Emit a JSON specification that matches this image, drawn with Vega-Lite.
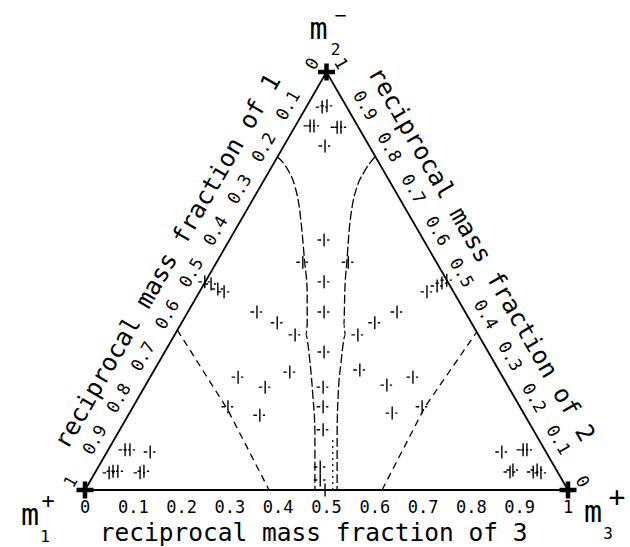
{
  "$schema": "https://vega.github.io/schema/vega-lite/v6.json",
  "width": 483,
  "height": 418,
  "autosize": {"type": "none"},
  "padding": {"left": 85, "top": 72, "right": 62, "bottom": 57},
  "background": "white",
  "config": {"view": {"stroke": null}},
  "datasets": {
    "tri": [
      {"id": "tri", "o": 0, "x": 0, "y": 0},
      {"id": "tri", "o": 1, "x": 1, "y": 0},
      {"id": "tri", "o": 2, "x": 0.5, "y": 1},
      {"id": "tri", "o": 3, "x": 0, "y": 0}
    ],
    "dash": [
      {"id": "L", "o": 0, "x": 0.191, "y": 0.383},
      {"id": "L", "o": 1, "x": 0.296, "y": 0.191},
      {"id": "L", "o": 2, "x": 0.381, "y": 0},
      {"id": "R", "o": 0, "x": 0.615, "y": 0},
      {"id": "R", "o": 1, "x": 0.704, "y": 0.199},
      {"id": "R", "o": 2, "x": 0.811, "y": 0.378}
    ],
    "curve": [
      {"id": "CL", "o": 0, "x": 0.398, "y": 0.797},
      {"id": "CL", "o": 1, "x": 0.420, "y": 0.766},
      {"id": "CL", "o": 2, "x": 0.435, "y": 0.725},
      {"id": "CL", "o": 3, "x": 0.443, "y": 0.682},
      {"id": "CL", "o": 4, "x": 0.449, "y": 0.622},
      {"id": "CL", "o": 5, "x": 0.455, "y": 0.543},
      {"id": "CL", "o": 6, "x": 0.460, "y": 0.478},
      {"id": "CL", "o": 7, "x": 0.460, "y": 0.395},
      {"id": "CL", "o": 8, "x": 0.457, "y": 0.371},
      {"id": "CL", "o": 9, "x": 0.466, "y": 0.304},
      {"id": "CL", "o": 10, "x": 0.472, "y": 0.222},
      {"id": "CL", "o": 11, "x": 0.476, "y": 0.144},
      {"id": "CL", "o": 12, "x": 0.476, "y": 0},
      {"id": "CR", "o": 0, "x": 0.600, "y": 0.797},
      {"id": "CR", "o": 1, "x": 0.578, "y": 0.761},
      {"id": "CR", "o": 2, "x": 0.563, "y": 0.725},
      {"id": "CR", "o": 3, "x": 0.553, "y": 0.677},
      {"id": "CR", "o": 4, "x": 0.547, "y": 0.622},
      {"id": "CR", "o": 5, "x": 0.542, "y": 0.543},
      {"id": "CR", "o": 6, "x": 0.538, "y": 0.478},
      {"id": "CR", "o": 7, "x": 0.536, "y": 0.395},
      {"id": "CR", "o": 8, "x": 0.539, "y": 0.371},
      {"id": "CR", "o": 9, "x": 0.530, "y": 0.304},
      {"id": "CR", "o": 10, "x": 0.524, "y": 0.222},
      {"id": "CR", "o": 11, "x": 0.522, "y": 0.144},
      {"id": "CR", "o": 12, "x": 0.522, "y": 0}
    ],
    "dot": [
      {"id": "D", "o": 0, "x": 0.513, "y": 0},
      {"id": "D", "o": 1, "x": 0.513, "y": 0.12}
    ],
    "pts": [
      {"x": 0.491, "y": 0.916}, {"x": 0.501, "y": 0.919}, {"x": 0.466, "y": 0.871}, {"x": 0.474, "y": 0.871},
      {"x": 0.522, "y": 0.868}, {"x": 0.530, "y": 0.868}, {"x": 0.497, "y": 0.823},
      {"x": 0.495, "y": 0.598}, {"x": 0.495, "y": 0.498}, {"x": 0.495, "y": 0.426}, {"x": 0.495, "y": 0.330},
      {"x": 0.493, "y": 0.246}, {"x": 0.493, "y": 0.199}, {"x": 0.493, "y": 0.144}, {"x": 0.487, "y": 0.055},
      {"x": 0.487, "y": 0.024}, {"x": 0.497, "y": 0.0},
      {"x": 0.451, "y": 0.545}, {"x": 0.545, "y": 0.545}, {"x": 0.435, "y": 0.371}, {"x": 0.565, "y": 0.371},
      {"x": 0.248, "y": 0.498}, {"x": 0.261, "y": 0.493}, {"x": 0.275, "y": 0.481}, {"x": 0.288, "y": 0.474},
      {"x": 0.749, "y": 0.502}, {"x": 0.739, "y": 0.495}, {"x": 0.729, "y": 0.488}, {"x": 0.708, "y": 0.474},
      {"x": 0.356, "y": 0.426}, {"x": 0.398, "y": 0.400}, {"x": 0.317, "y": 0.270}, {"x": 0.373, "y": 0.246},
      {"x": 0.424, "y": 0.282}, {"x": 0.296, "y": 0.199}, {"x": 0.362, "y": 0.179},
      {"x": 0.646, "y": 0.426}, {"x": 0.600, "y": 0.400}, {"x": 0.569, "y": 0.287}, {"x": 0.625, "y": 0.251},
      {"x": 0.679, "y": 0.270}, {"x": 0.636, "y": 0.184}, {"x": 0.698, "y": 0.199},
      {"x": 0.083, "y": 0.096}, {"x": 0.093, "y": 0.096}, {"x": 0.135, "y": 0.091}, {"x": 0.050, "y": 0.041},
      {"x": 0.058, "y": 0.045}, {"x": 0.068, "y": 0.045}, {"x": 0.114, "y": 0.041}, {"x": 0.122, "y": 0.045},
      {"x": 0.863, "y": 0.091}, {"x": 0.907, "y": 0.096}, {"x": 0.915, "y": 0.096}, {"x": 0.880, "y": 0.043},
      {"x": 0.886, "y": 0.048}, {"x": 0.928, "y": 0.043}, {"x": 0.936, "y": 0.048}, {"x": 0.944, "y": 0.041}
    ],
    "vert": [
      {"x": 0, "y": 0}, {"x": 1, "y": 0}, {"x": 0.5, "y": 1}
    ],
    "bottomLab": [
      {"x": 0, "y": 0, "label": "0"}, {"x": 0.1, "y": 0, "label": "0.1"}, {"x": 0.2, "y": 0, "label": "0.2"},
      {"x": 0.3, "y": 0, "label": "0.3"}, {"x": 0.4, "y": 0, "label": "0.4"}, {"x": 0.5, "y": 0, "label": "0.5"},
      {"x": 0.6, "y": 0, "label": "0.6"}, {"x": 0.7, "y": 0, "label": "0.7"}, {"x": 0.8, "y": 0, "label": "0.8"},
      {"x": 0.9, "y": 0, "label": "0.9"}, {"x": 1, "y": 0, "label": "1"}
    ],
    "leftLab": [
      {"x": 0.5, "y": 1, "label": "0"}, {"x": 0.45, "y": 0.9, "label": "0.1"}, {"x": 0.4, "y": 0.8, "label": "0.2"},
      {"x": 0.35, "y": 0.7, "label": "0.3"}, {"x": 0.3, "y": 0.6, "label": "0.4"}, {"x": 0.25, "y": 0.5, "label": "0.5"},
      {"x": 0.2, "y": 0.4, "label": "0.6"}, {"x": 0.15, "y": 0.3, "label": "0.7"}, {"x": 0.1, "y": 0.2, "label": "0.8"},
      {"x": 0.05, "y": 0.1, "label": "0.9"}, {"x": 0, "y": 0, "label": "1"}
    ],
    "rightLab": [
      {"x": 0.5, "y": 1, "label": "1"}, {"x": 0.55, "y": 0.9, "label": "0.9"}, {"x": 0.6, "y": 0.8, "label": "0.8"},
      {"x": 0.65, "y": 0.7, "label": "0.7"}, {"x": 0.7, "y": 0.6, "label": "0.6"}, {"x": 0.75, "y": 0.5, "label": "0.5"},
      {"x": 0.8, "y": 0.4, "label": "0.4"}, {"x": 0.85, "y": 0.3, "label": "0.3"}, {"x": 0.9, "y": 0.2, "label": "0.2"},
      {"x": 0.95, "y": 0.1, "label": "0.1"}, {"x": 1, "y": 0, "label": "0"}
    ],
    "titles": [
      {"x": 0.5, "y": 0, "side": "bottom", "label": "reciprocal mass fraction of 3"},
      {"x": 0.25, "y": 0.5, "side": "left", "label": "reciprocal mass fraction of 1"},
      {"x": 0.75, "y": 0.5, "side": "right", "label": "reciprocal mass fraction of 2"}
    ],
    "vlab": [
      {"x": 0.5, "y": 1, "v": "top", "label": "m"},
      {"x": 0, "y": 0, "v": "bl", "label": "m"},
      {"x": 1, "y": 0, "v": "br", "label": "m"}
    ]
  },
  "encoding": {
    "x": {"field": "x", "type": "quantitative", "scale": {"domain": [0, 1], "nice": false, "zero": false}, "axis": null},
    "y": {"field": "y", "type": "quantitative", "scale": {"domain": [0, 1], "nice": false, "zero": false}, "axis": null}
  },
  "layer": [
    {
      "data": {"name": "tri"},
      "mark": {"type": "line", "color": "black", "strokeWidth": 1.8},
      "encoding": {"order": {"field": "o", "type": "quantitative"}, "detail": {"field": "id"}}
    },
    {
      "data": {"name": "dash"},
      "mark": {"type": "line", "color": "black", "strokeWidth": 1.3, "strokeDash": [7, 5]},
      "encoding": {"order": {"field": "o", "type": "quantitative"}, "detail": {"field": "id"}}
    },
    {
      "data": {"name": "curve"},
      "mark": {"type": "line", "color": "black", "strokeWidth": 1.3, "strokeDash": [9, 3], "interpolate": "monotone"},
      "encoding": {"order": {"field": "o", "type": "quantitative"}, "detail": {"field": "id"}}
    },
    {
      "data": {"name": "dot"},
      "mark": {"type": "line", "color": "black", "strokeWidth": 1.2, "strokeDash": [2, 4]},
      "encoding": {"order": {"field": "o", "type": "quantitative"}, "detail": {"field": "id"}}
    },
    {
      "data": {"name": "pts"},
      "mark": {"type": "point", "shape": "M-1,0H-0.45M0,-1V1M0.45,0H0.8", "filled": false, "stroke": "black", "strokeWidth": 1.4, "size": 169, "opacity": 1}
    },
    {
      "data": {"name": "vert"},
      "mark": {"type": "point", "shape": "M-1,0H1M0,-1V1", "filled": false, "stroke": "black", "strokeWidth": 4.5, "size": 289, "opacity": 1}
    },
    {
      "data": {"name": "bottomLab"},
      "mark": {"type": "text", "font": "DejaVu Sans Mono", "fontSize": 17, "align": "center", "baseline": "middle", "dy": 18, "color": "black"},
      "encoding": {"text": {"field": "label"}}
    },
    {
      "data": {"name": "leftLab"},
      "mark": {"type": "text", "font": "DejaVu Sans Mono", "fontSize": 17, "align": "center", "baseline": "middle", "angle": -60, "dy": -16, "color": "black"},
      "encoding": {"text": {"field": "label"}}
    },
    {
      "data": {"name": "rightLab"},
      "mark": {"type": "text", "font": "DejaVu Sans Mono", "fontSize": 17, "align": "center", "baseline": "middle", "angle": 60, "dy": -16, "color": "black"},
      "encoding": {"text": {"field": "label"}}
    },
    {
      "data": {"name": "titles"},
      "transform": [{"filter": "datum.side === 'bottom'"}],
      "mark": {"type": "text", "font": "DejaVu Sans Mono", "fontSize": 24.5, "align": "center", "baseline": "alphabetic", "dx": -13, "dy": 51, "color": "black"},
      "encoding": {"text": {"field": "label"}}
    },
    {
      "data": {"name": "titles"},
      "transform": [{"filter": "datum.side === 'left'"}],
      "mark": {"type": "text", "font": "DejaVu Sans Mono", "fontSize": 24.5, "align": "center", "baseline": "middle", "angle": -60, "dx": -2, "dy": -42, "color": "black"},
      "encoding": {"text": {"field": "label"}}
    },
    {
      "data": {"name": "titles"},
      "transform": [{"filter": "datum.side === 'right'"}],
      "mark": {"type": "text", "font": "DejaVu Sans Mono", "fontSize": 24.5, "align": "center", "baseline": "middle", "angle": 60, "dx": -6, "dy": -42, "color": "black"},
      "encoding": {"text": {"field": "label"}}
    },
    {
      "data": {"name": "vlab"},
      "transform": [{"filter": "datum.v === 'top'"}],
      "mark": {"type": "text", "font": "DejaVu Sans Mono", "fontSize": 30, "align": "center", "baseline": "middle", "dx": -8, "dy": -42, "color": "black"},
      "encoding": {"text": {"field": "label"}}
    },
    {
      "data": {"values": [{"x": 0.5, "y": 1, "label": "−"}]},
      "mark": {"type": "text", "font": "DejaVu Sans Mono", "fontSize": 20, "align": "center", "baseline": "middle", "dx": 14, "dy": -56, "color": "black"},
      "encoding": {"text": {"field": "label"}}
    },
    {
      "data": {"values": [{"x": 0.5, "y": 1, "label": "2"}]},
      "mark": {"type": "text", "font": "DejaVu Sans Mono", "fontSize": 16, "align": "center", "baseline": "middle", "dx": 9, "dy": -22, "color": "black"},
      "encoding": {"text": {"field": "label"}}
    },
    {
      "data": {"name": "vlab"},
      "transform": [{"filter": "datum.v === 'bl'"}],
      "mark": {"type": "text", "font": "DejaVu Sans Mono", "fontSize": 30, "align": "center", "baseline": "middle", "dx": -55, "dy": 26, "color": "black"},
      "encoding": {"text": {"field": "label"}}
    },
    {
      "data": {"values": [{"x": 0, "y": 0, "label": "+"}]},
      "mark": {"type": "text", "font": "DejaVu Sans Mono", "fontSize": 22, "align": "center", "baseline": "middle", "dx": -37, "dy": 11, "color": "black"},
      "encoding": {"text": {"field": "label"}}
    },
    {
      "data": {"values": [{"x": 0, "y": 0, "label": "1"}]},
      "mark": {"type": "text", "font": "DejaVu Sans Mono", "fontSize": 16, "align": "center", "baseline": "middle", "dx": -40, "dy": 47, "color": "black"},
      "encoding": {"text": {"field": "label"}}
    },
    {
      "data": {"name": "vlab"},
      "transform": [{"filter": "datum.v === 'br'"}],
      "mark": {"type": "text", "font": "DejaVu Sans Mono", "fontSize": 30, "align": "center", "baseline": "middle", "dx": 25, "dy": 23, "color": "black"},
      "encoding": {"text": {"field": "label"}}
    },
    {
      "data": {"values": [{"x": 1, "y": 0, "label": "+"}]},
      "mark": {"type": "text", "font": "DejaVu Sans Mono", "fontSize": 28, "align": "center", "baseline": "middle", "dx": 49, "dy": 9, "color": "black"},
      "encoding": {"text": {"field": "label"}}
    },
    {
      "data": {"values": [{"x": 1, "y": 0, "label": "3"}]},
      "mark": {"type": "text", "font": "DejaVu Sans Mono", "fontSize": 16, "align": "center", "baseline": "middle", "dx": 40, "dy": 44, "color": "black"},
      "encoding": {"text": {"field": "label"}}
    }
  ]
}
